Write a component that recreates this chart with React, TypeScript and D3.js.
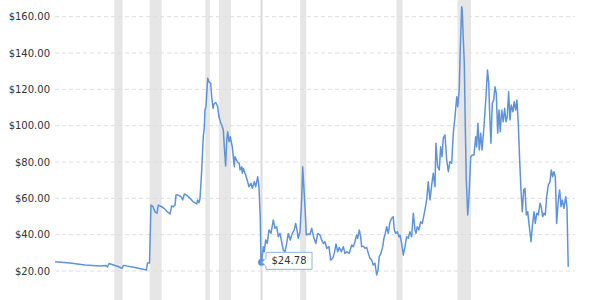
import React from "react";
import * as d3 from "d3";

// Time (decimal years) and inflation-adjusted crude oil price (USD)
const years: number[] = [
  1963.35, 1965.01, 1966.67, 1968.33, 1969.0, 1969.16, 1969.33, 1970.33, 1970.77, 1970.94,
  1972.21, 1973.48, 1973.59, 1973.82, 1973.98, 1974.2, 1974.42, 1974.64, 1974.79, 1975.17,
  1975.53, 1975.9, 1976.09, 1976.27, 1976.45, 1976.64, 1976.75, 1977.0, 1977.3, 1977.49,
  1977.67, 1977.93, 1978.3, 1978.66, 1979.04, 1979.15, 1979.3, 1979.41, 1979.6, 1979.77,
  1979.88, 1979.96, 1980.07, 1980.18, 1980.26, 1980.4, 1980.59, 1980.7, 1980.85, 1980.99,
  1981.18, 1981.37, 1981.51, 1981.66, 1981.88, 1981.99, 1982.1, 1982.25, 1982.37, 1982.48,
  1982.62, 1982.76, 1982.98, 1983.21, 1983.28, 1983.56, 1983.76, 1983.84, 1984.03, 1984.09,
  1984.2, 1984.47, 1984.69, 1984.83, 1985.05, 1985.2, 1985.42, 1985.58, 1985.8, 1985.94,
  1986.08, 1986.16, 1986.22, 1986.42, 1986.53, 1986.68, 1986.86, 1987.05, 1987.27, 1987.53,
  1987.71, 1987.9, 1988.08, 1988.27, 1988.45, 1988.63, 1988.82, 1989.01, 1989.19, 1989.41,
  1989.63, 1989.85, 1990.0, 1990.15, 1990.29, 1990.48, 1990.67, 1990.78, 1990.93, 1991.04,
  1991.18, 1991.4, 1991.59, 1991.78, 1992.03, 1992.25, 1992.44, 1992.7, 1992.88, 1993.06,
  1993.25, 1993.44, 1993.69, 1993.88, 1994.1, 1994.28, 1994.47, 1994.66, 1994.83, 1995.05,
  1995.28, 1995.46, 1995.65, 1995.94, 1996.21, 1996.38, 1996.57, 1996.76, 1996.87, 1997.05,
  1997.2, 1997.31, 1997.49, 1997.68, 1997.87, 1998.05, 1998.23, 1998.42, 1998.6, 1998.79,
  1998.97, 1999.12, 1999.26, 1999.45, 1999.64, 1999.78, 1999.93, 2000.08, 2000.26, 2000.45,
  2000.64, 2000.81, 2000.93, 2001.08, 2001.26, 2001.44, 2001.55, 2001.74, 2001.92, 2002.11,
  2002.3, 2002.48, 2002.66, 2002.85, 2003.03, 2003.22, 2003.33, 2003.47, 2003.66, 2003.85,
  2004.02, 2004.14, 2004.32, 2004.51, 2004.69, 2004.88, 2005.07, 2005.24, 2005.43, 2005.54,
  2005.73, 2005.91, 2006.06, 2006.21, 2006.35, 2006.54, 2006.73, 2006.91, 2007.09, 2007.28,
  2007.46, 2007.65, 2007.84, 2007.95, 2008.12, 2008.23, 2008.39, 2008.45, 2008.57, 2008.68,
  2008.79, 2008.9, 2009.06, 2009.2, 2009.39, 2009.56, 2009.75, 2009.94, 2010.05, 2010.19,
  2010.34, 2010.5, 2010.64, 2010.86, 2011.08, 2011.25, 2011.39, 2011.47, 2011.63, 2011.78,
  2011.93, 2012.08, 2012.22, 2012.38, 2012.52, 2012.66, 2012.82, 2012.99, 2013.15, 2013.29,
  2013.44, 2013.59, 2013.74, 2013.88, 2014.07, 2014.21, 2014.37, 2014.51, 2014.66, 2014.81,
  2014.96, 2015.1, 2015.26, 2015.4, 2015.55, 2015.7, 2015.84, 2016.07, 2016.21, 2016.4,
  2016.54, 2016.7, 2016.87, 2017.06, 2017.2, 2017.36, 2017.5, 2017.65, 2017.8, 2017.98,
  2018.17, 2018.31, 2018.47, 2018.61, 2018.76, 2018.91, 2019.09, 2019.24, 2019.39, 2019.53,
  2019.72, 2019.91, 2020.05, 2020.19,
];

const prices: number[] = [
  25.1, 24.4, 23.3, 22.7, 23.0, 22.2, 24.1, 22.5, 21.5, 23.1,
  21.9, 20.5, 24.4, 24.4, 56.3, 55.4, 52.6, 51.8, 56.3, 55.4,
  54.0, 52.1, 51.4, 55.8, 55.4, 56.3, 61.8, 61.8, 60.9, 59.1,
  62.4, 61.8, 60.0, 58.1, 56.9, 59.1, 57.6, 60.0, 75.6, 93.9,
  98.5, 108.6, 110.4, 119.6, 126.1, 124.2, 123.3, 115.9, 109.6, 112.3,
  112.6, 110.4, 104.9, 102.2, 99.4, 97.6, 88.4, 77.8, 92.1, 96.7,
  91.2, 93.9, 88.4, 77.4, 82.9, 80.0, 79.3, 75.6, 77.4, 73.8,
  76.5, 72.8, 69.1, 66.4, 68.3, 65.5, 69.1, 66.4, 71.9, 66.4,
  49.9, 26.0, 24.78, 33.4, 30.6, 37.1, 35.2, 42.6, 40.7, 48.1,
  43.5, 44.4, 38.9, 40.7, 36.1, 31.5, 30.6, 35.2, 40.7, 37.1,
  40.7, 42.6, 46.2, 42.6, 38.0, 41.6, 59.1, 77.4, 64.6, 55.4,
  39.8, 40.4, 40.1, 43.5, 38.0, 35.2, 40.7, 39.8, 37.1, 35.2,
  36.1, 32.5, 33.4, 26.0, 27.0, 29.7, 34.8, 30.6, 33.0, 30.6,
  33.4, 29.7, 30.6, 29.7, 34.3, 33.4, 36.1, 39.8, 38.0, 42.6,
  38.9, 33.4, 33.7, 32.5, 33.0, 29.7, 27.0, 26.0, 23.3, 24.2,
  17.8, 20.5, 27.9, 29.7, 33.4, 38.0, 40.7, 44.4, 40.7, 47.1,
  49.0, 49.9, 42.6, 40.7, 41.6, 38.9, 39.8, 35.2, 28.8, 33.4,
  38.9, 38.0, 41.6, 38.9, 51.8, 42.6, 40.7, 44.4, 42.6, 47.1,
  46.2, 49.0, 53.6, 59.1, 69.1, 59.1, 67.3, 73.8, 66.4, 90.3,
  77.4, 75.6, 88.4, 82.9, 93.0, 94.9, 81.1, 74.7, 80.2, 79.3,
  95.8, 104.9, 115.9, 110.4, 119.6, 141.7, 165.5, 163.7, 147.4, 134.5,
  99.4, 70.1, 50.8, 60.9, 82.9, 83.8, 83.8, 93.9, 88.4, 101.3,
  86.6, 95.8, 86.6, 99.4, 115.9, 130.6, 123.3, 109.6, 90.3, 112.3,
  114.1, 121.4, 117.8, 95.8, 108.6, 96.7, 108.6, 102.2, 109.6, 102.2,
  104.9, 118.7, 103.1, 111.4, 107.7, 113.2, 108.6, 114.1, 101.3, 81.1,
  64.6, 52.6, 64.6, 65.5, 50.8, 52.6, 46.2, 36.1, 44.4, 52.6,
  46.2, 51.8, 50.8, 57.3, 55.4, 49.9, 51.8, 50.8, 60.9, 67.3,
  69.1, 75.6, 71.9, 74.7, 71.9, 46.2, 59.1, 64.6, 55.4, 59.1,
  54.5, 60.9, 55.4, 22.4,
];

// Recession periods (decimal years)
const recessionStarts: number[] = [1969.92, 1973.83, 1980.0, 1981.5, 1990.5, 2001.17, 2007.92];
const recessionEnds: number[] = [1970.83, 1975.17, 1980.5, 1982.83, 1991.17, 2001.83, 2009.42];

const yTicks: number[] = [20, 40, 60, 80, 100, 120, 140, 160];

const tooltipYear = 1986.22;
const tooltipPrice = 24.78;

const W = 600;
const H = 300;

export default function App() {
  const x = d3.scaleLinear().domain([1963.35, 2020.94]).range([55, 575]);
  const y = d3.scaleLinear().domain([20, 160]).range([271, 16.7]);

  const data = years.map((t, i) => [t, prices[i]] as [number, number]);
  const line = d3
    .line<[number, number]>()
    .x((d) => x(d[0]))
    .y((d) => y(d[1]));

  const lineColor = "#5e93da";
  const px = x(tooltipYear);
  const py = y(tooltipPrice);
  const bx = px + 4.5;
  const by = py - 10;
  const bw = 46;
  const bh = 17;

  const callout = `M ${bx} ${by} L ${bx + bw} ${by} L ${bx + bw} ${by + bh} L ${bx} ${by + bh} L ${bx} ${py + 4} L ${px + 0.5} ${py} L ${bx} ${py - 4} Z`;

  return (
    <svg
      width={W}
      height={H}
      style={{ position: "fixed", left: 0, top: 0, background: "#fff" }}
      fontFamily="'DejaVu Sans', Verdana, sans-serif"
    >
      <rect x={0} y={0} width={W} height={H} fill="#fff" />
      {recessionStarts.map((s, i) => (
        <rect
          key={"r" + i}
          x={x(s)}
          y={0}
          width={x(recessionEnds[i]) - x(s)}
          height={H}
          fill="#e6e6e6"
        />
      ))}
      {yTicks.map((t) => (
        <g key={"g" + t}>
          <line
            x1={55}
            x2={575}
            y1={y(t)}
            y2={y(t)}
            stroke="#dedede"
            strokeWidth={1}
            strokeDasharray="4,3"
          />
          <text
            x={50}
            y={y(t)}
            dy="0.35em"
            textAnchor="end"
            fontSize={10}
            fill="#333"
          >
            {"$" + d3.format(".2f")(t)}
          </text>
        </g>
      ))}
      <line x1={px} x2={px} y1={0} y2={H} stroke="#dcdcdc" strokeWidth={2} />
      <path
        d={line(data) || ""}
        fill="none"
        stroke={lineColor}
        strokeWidth={1.5}
        strokeLinejoin="round"
      />
      <circle cx={px} cy={py} r={3.5} fill={lineColor} />
      <path d={callout} fill="#fff" stroke="#8fb4e3" strokeWidth={1} />
      <text
        x={bx + bw / 2}
        y={by + bh / 2}
        dy="0.35em"
        textAnchor="middle"
        fontSize={10}
        fill="#333"
      >
        {"$" + d3.format(".2f")(tooltipPrice)}
      </text>
    </svg>
  );
}
